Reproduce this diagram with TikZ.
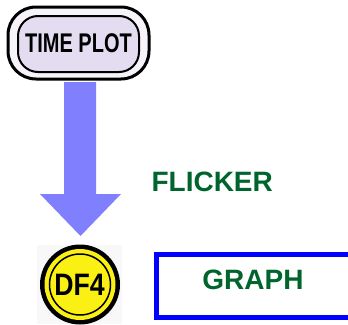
\documentclass[tikz,border=0pt]{standalone}
\usepackage{fontspec}
\setmainfont{Liberation Sans}
\definecolor{arrowblue}{RGB}{128,128,255}
\definecolor{lbl}{RGB}{0,100,45}
\definecolor{lav}{RGB}{228,220,240}
\definecolor{lavout}{RGB}{246,243,250}
\definecolor{dfyellow}{RGB}{250,240,20}
\definecolor{bg}{RGB}{248,248,248}
\begin{document}
\begin{tikzpicture}[x=1pt,y=-1pt,
  lbltext/.style={font=\fontsize{28}{28}\selectfont\bfseries, text=lbl},
  btntext/.style={font=\fontsize{27}{27}\selectfont\bfseries, xscale=0.74}]
\useasboundingbox (0,0) rectangle (348,324);
\clip (0,0) rectangle (348,324);
% TIME PLOT button
\draw[line width=3pt, fill=lavout, rounded corners=28pt] (8,7) rectangle (149,79);
\draw[line width=2pt, fill=lav, rounded corners=20pt] (18,16) rectangle (139,72);
\node[btntext] (tp) at (78.5,43.5) {TIME PLOT};
% arrow
\fill[arrowblue] (64,82) -- (96,82) -- (96,194) -- (121,194) -- (80.5,236) -- (40,194) -- (64,194) -- cycle;
\node[lbltext, anchor=base west] (fl) at (148,191) {FLICKER};
% DF4
\fill[bg] (37,245) rectangle (122,324);
\fill[black] (80,284.5) circle (40);
\fill[dfyellow] (80,284.5) circle (35.5);
\draw[line width=1.5pt] (80,284.5) circle (30.5);
\node[font=\fontsize{31}{31}\selectfont\bfseries, xscale=0.86] (df) at (79.5,285) {DF4};
% GRAPH box
\draw[blue, line width=5pt] (156.5,254.5) rectangle (370,317.5);
\node[lbltext] (gr) at (253,280) {GRAPH};
\end{tikzpicture}
\end{document}
